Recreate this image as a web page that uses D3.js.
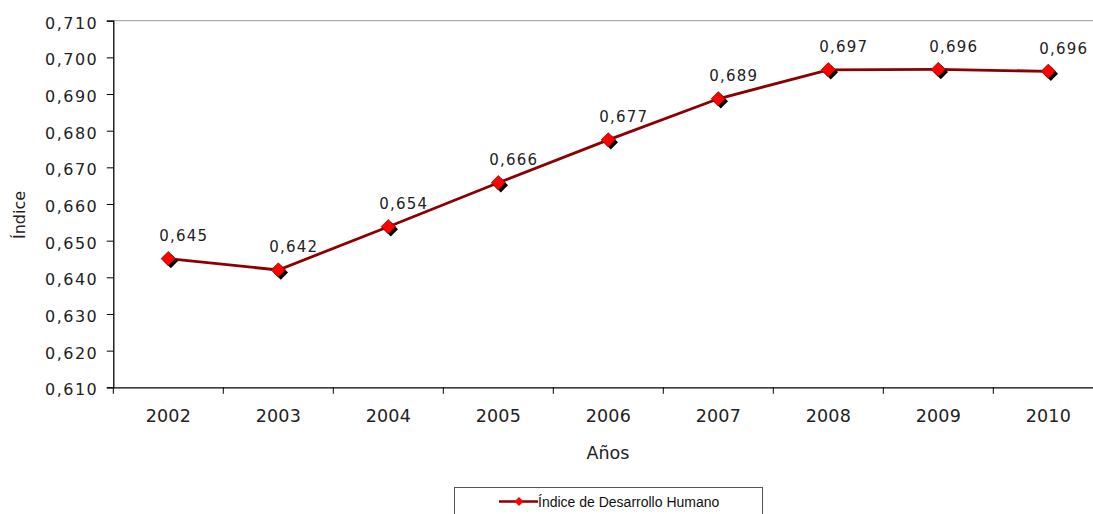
<!DOCTYPE html>
<html><head><meta charset="utf-8">
<script src="https://cdn.jsdelivr.net/npm/d3@7"></script>
<style>body{margin:0;background:#fff;overflow:hidden}svg{display:block}</style>
</head><body>
<svg id="c" width="1093" height="514"></svg>
<script>
const years = ["2002","2003","2004","2005","2006","2007","2008","2009","2010"];
const values = [0.6451, 0.6420, 0.6538, 0.6658, 0.6775, 0.6887, 0.6966, 0.6967, 0.6962];
const labels = ["0,645","0,642","0,654","0,666","0,677","0,689","0,697","0,696","0,696"];
const yTicks = [0.61,0.62,0.63,0.64,0.65,0.66,0.67,0.68,0.69,0.70,0.71];
const seriesName = "Índice de Desarrollo Humano";

const svg = d3.select("#c");
const L = 113.3, R = 1103.3, T = 20.7, B = 387.3;
const x = d3.scaleBand().domain(years).range([L, R]).padding(0);
const y = d3.scaleLinear().domain([0.61, 0.71]).range([B, T]);
const fmt = v => d3.format(".3f")(v).replace(".", ",");
const font = "DejaVu Sans, Verdana, sans-serif";

// top border
svg.append("line").attr("x1", L).attr("x2", R).attr("y1", T).attr("y2", T)
  .attr("stroke", "#999").attr("stroke-width", 1);

// y axis
const ya = svg.append("g").attr("transform", `translate(${L},0)`)
  .call(d3.axisLeft(y).tickValues(yTicks).tickFormat(fmt).tickSize(6.5).tickPadding(8.5));
ya.select(".domain").attr("stroke", "#000").attr("stroke-width", 1.3);
ya.selectAll(".tick line").attr("stroke", "#000");
ya.selectAll("text").attr("font-family", font).attr("font-size", 16).attr("fill", "#222")
  .attr("letter-spacing", "1.5px").attr("dy", "0.46em");

// x axis
const xa = svg.append("g").attr("transform", `translate(0,${B})`)
  .call(d3.axisBottom(x).tickSize(0).tickPadding(22));
xa.select(".domain").attr("stroke", "#000").attr("stroke-width", 1.3);
xa.selectAll("text").attr("font-family", font).attr("font-size", 17.5).attr("fill", "#222").attr("letter-spacing", "0.2px");
// boundary ticks
const bounds = years.map(d => x(d)).concat([R]);
svg.append("g").selectAll("line").data(bounds).join("line")
  .attr("x1", d => d).attr("x2", d => d).attr("y1", B).attr("y2", B + 6.5)
  .attr("stroke", "#000").attr("stroke-width", 1);

// axis titles
svg.append("text").attr("transform", "translate(25,215) rotate(-90)")
  .attr("text-anchor", "middle").attr("font-family", font).attr("font-size", 16)
  .attr("fill", "#222").text("Índice");
svg.append("text").attr("x", 608).attr("y", 459).attr("text-anchor", "middle")
  .attr("font-family", font).attr("font-size", 17.5)
  .attr("fill", "#222").text("Años");

// line
const cx = d => x(d) + x.bandwidth() / 2;
const line = d3.line().x((d, i) => cx(years[i])).y(d => y(d));
svg.append("path").datum(values).attr("d", line).attr("fill", "none")
  .attr("stroke", "#8b0000").attr("stroke-width", 2.8);

// markers
const dia = s => `M0,${-s}L${s},0L0,${s}L${-s},0Z`;
const mg = svg.append("g");
mg.selectAll("path.sh").data(values).join("path").attr("class", "sh")
  .attr("d", dia(7.2)).attr("transform", (d, i) => `translate(${cx(years[i]) + 2.5},${y(d) + 2.5})`)
  .attr("fill", "#000");
mg.selectAll("path.mk").data(values).join("path").attr("class", "mk")
  .attr("d", dia(7.2)).attr("transform", (d, i) => `translate(${cx(years[i])},${y(d)})`)
  .attr("fill", "#ff0000").attr("stroke", "#600").attr("stroke-width", 0.6);

// data labels
svg.append("g").selectAll("text").data(values).join("text")
  .attr("x", (d, i) => cx(years[i]) + 15.5).attr("y", d => y(d) - 17.5)
  .attr("text-anchor", "middle").attr("font-family", font).attr("font-size", 15)
  .attr("letter-spacing", "1.2px").attr("fill", "#222").text((d, i) => labels[i]);

// legend
const lg = svg.append("g");
lg.append("rect").attr("x", 454.5).attr("y", 487.5).attr("width", 308).attr("height", 40)
  .attr("fill", "#fff").attr("stroke", "#555").attr("stroke-width", 1);
lg.append("line").attr("x1", 499).attr("x2", 538).attr("y1", 501.5).attr("y2", 501.5)
  .attr("stroke", "#8b0000").attr("stroke-width", 2.6);
lg.append("path").attr("d", dia(4.5)).attr("transform", "translate(519,501.5)").attr("fill", "#ff0000");
lg.append("text").attr("x", 538).attr("y", 506.5).attr("font-family", "Liberation Sans, Arial, sans-serif")
  .attr("font-size", 14).attr("fill", "#111").text(seriesName);
</script>
</body></html>
